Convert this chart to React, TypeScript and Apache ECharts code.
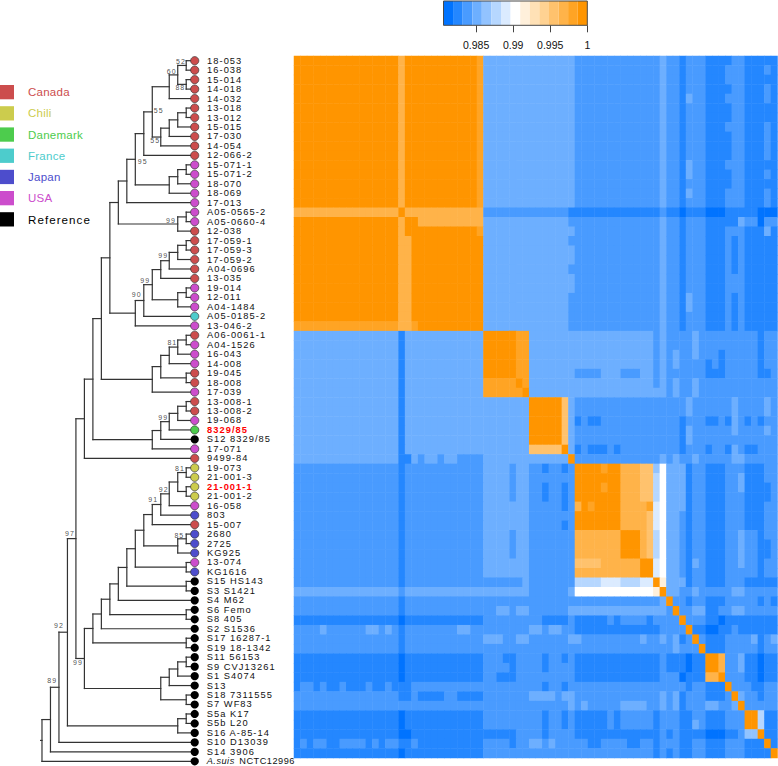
import React, { useEffect, useRef } from "react";
import * as echarts from "echarts";

// ---------- tree (named clades, support values after the closing bracket) ----------
const cladeA = "(((18-053,16-038)52,(15-014,14-018)88)60,14-032)";
const cladeB = "((((13-018,13-012),15-015),17-030),14-054)55";
const cladeC = "(((15-071-1,15-071-2),18-070),18-069)";
const cladeD = "((A05-0565-2,A05-0660-4),12-038)99";
const cladeUpper = `(((((${cladeA},${cladeB})55,12-066-2),${cladeC})95,17-013),${cladeD})`;
const cladeI = "((((17-059-1,17-059-3),17-059-2),A04-0696)99,13-035)";
const cladeJ = "((19-014,12-011),A04-1484)";
const cladeF = `(((${cladeI},${cladeJ})99,A05-0185-2)90,13-046-2)`;
const cladeM = "(((((A06-0061-1,A04-1526),16-043)81,14-008),(19-045,18-008)),17-039)";
const cladeP = "(((((13-008-1,13-008-2),19-068),8329/85)99,S12 8329/85),17-071)";
const cladeQ = `((((${cladeUpper},${cladeF}),${cladeM}),${cladeP}),9499-84)`;
const cladeEE = "((19-073,21-001-3)81,(21-001-1,21-001-2))";
const cladeAA = `((((${cladeEE},16-058)92,803)91,15-007),((2680,2725)85,KG925))`;
const cladeV = `(((((${cladeAA},(13-074,KG1616)),(S15 HS143,S3 S1421)),S4 M62),(S6 Femo,S8 405)),S2 S1536)`;
const cladeU = "((((S11 56153,S9 CVJ13261),S1 S4074),S13),(S18 7311555,S7 WF83))";
const cladeS = `((${cladeV},(S17 16287-1,S19 18-1342)),${cladeU})99`;
const TREE = `(((((${cladeQ},${cladeS})97,((S5a K17,S5b L20),S16 A-85-14))92,S10 D13039)89,S14 3906),A.suis NCTC12996)`;

// offsets of the support labels, in the order the nodes close in TREE
const SUPPORT_OFFSETS: [number, number][] = [
  [-5.2, -4.1], [-5.9, 3.6], [-6, -3.9], [-5.5, 3.3], [6.4, -1.2], [7.4, 2.4], [-6.7, -4],
  [-6, -5.7], [-7, -3.9], [-7.1, -5.5], [-5.4, -4.3], [-6, -4.3], [-6.2, -4.2], [-5.6, -4.5],
  [-7.5, -5.2], [-6.9, -3.5], [-6.4, 4.4], [-5.9, -4.7], [-8.5, -6.6], [-6.7, -7],
];

// ---------- countries ----------
const COUNTRIES = ["Canada", "Chili", "Danemark", "France", "Japan", "USA", "Reference"];
const COUNTRY_COLORS = ["#CC4D4D", "#CCCC4D", "#4DCC4D", "#4DCCCC", "#4D4DCC", "#CC4DCC", "#000000"];
// one index per tip, top to bottom
const TIP_COUNTRY = [
  0, 0, 0, 0, 0, 0, 0, 0, 0, 0, 0, 5, 5, 5, 5, 5, 5, 5, 0, 0, 0, 0, 0, 0, 5,
  5, 5, 3, 5, 0, 5, 5, 5, 0, 0, 5, 0, 0, 5, 2, 6, 5, 0, 1, 1, 1, 1, 5, 4, 0,
  4, 4, 4, 5, 4, 6, 6, 6, 6, 6, 6, 6, 6, 6, 6, 6, 6, 6, 6, 6, 6, 6, 6, 6, 6,
];
const RED_TIPS = ["8329/85", "21-001-1"];

// ---------- colour scale: 15 bands a..o ----------
const BAND_EDGES = [
  0.9806, 0.98189, 0.98319, 0.98448, 0.98577, 0.98707, 0.98836, 0.98965, 0.99095, 0.99224,
  0.99353, 0.99483, 0.99612, 0.99741, 0.99871, 1,
];
const BAND_VALUES = [
  0.98125, 0.98254, 0.98384, 0.98513, 0.98642, 0.98772, 0.98901, 0.9903, 0.99159, 0.99289,
  0.99418, 0.99547, 0.99677, 0.99806, 0.99935,
];
const BAND_COLORS = [
  "#0073FF", "#2487FF", "#499BFF", "#6DAFFF", "#92C3FF", "#B6D7FF", "#DBEBFF", "#FFFFFF",
  "#FFF0DB", "#FFE1B6", "#FFD292", "#FFC26D", "#FFB349", "#FFA424", "#FF9500",
];
const COLORBAR_TICKS = [0.985, 0.99, 0.995, 1];

// ---------- identity matrix, row by row: band letter + repeat count ----------
const MATRIX_ROWS = [
  "o16 m1 o11 n1 d14 c13 d1 c2 b1 c3 b3 b1 c2 b3 b1 b1",
  "o16 m1 o11 n1 d14 c13 d1 c2 b1 c3 b3 c1 c2 b3 c1 b1",
  "o16 m1 o11 n1 d14 c13 d1 c2 b1 c3 b3 c1 c2 b3 b1 b1",
  "o16 m1 o11 n1 d14 c13 d1 c2 b1 c3 b3 b1 c2 b3 c1 b1",
  "o16 m1 o11 n1 d14 c13 d1 c2 b1 d1 c2 b3 c1 c2 b3 c1 b1",
  "o16 m1 o11 n1 d14 c13 d1 c2 b1 c3 b3 b1 c2 b3 b1 b1",
  "o16 m1 o11 n1 d14 c13 d1 c2 b1 c3 b3 b1 c2 b3 b1 b1",
  "o16 m1 o11 n1 d14 c13 d1 c2 b1 c3 b3 c1 c2 b3 c1 b1",
  "o16 m1 o11 n1 d14 c13 d1 c2 b1 c3 b3 b1 c2 b3 c1 b1",
  "o16 m1 o11 n1 d14 c13 d1 c2 b1 c3 b3 b1 c2 b3 c1 b1",
  "o16 m1 o11 n1 d14 c13 d1 c2 b1 c3 b3 b1 c2 b3 c1 b1",
  "o16 m1 o11 n1 d14 c13 d1 c2 b1 d1 c2 b3 c1 c2 b3 b1 b1",
  "o16 m1 o11 n1 d14 c13 d1 c2 b1 d1 c2 b3 b1 c2 b3 c1 b1",
  "o16 m1 o11 n1 d14 c13 d1 c2 b1 c3 b3 b1 c2 b3 b1 b1",
  "o16 m1 o11 n1 d14 c13 d1 c2 b1 d1 c2 b3 c1 c2 b3 c1 b1",
  "o16 m1 o11 n1 d14 c13 d1 c2 b1 c3 b3 c1 c2 b3 c1 b1",
  "m16 o1 m12 c13 b1 b13 c1 b2 a1 b3 a3 b5 a3",
  "o16 m1 o2 m10 d13 c1 c13 d1 c2 b1 c3 b3 b2 d1 c2 a1 c2",
  "o16 m1 o11 n1 d14 c13 d1 c2 b1 c3 b3 c3 b3 d1 b1",
  "o16 m2 o11 d13 c1 c13 d1 c2 b1 c3 b3 c1 b1 c1 b5",
  "o16 m2 o11 d14 c13 d1 c2 b1 c3 b3 c1 b1 c1 b5",
  "o16 m2 o11 d14 c13 d1 c2 b1 c3 b3 c1 b1 c1 b5",
  "o16 m2 o11 d13 c1 c13 d1 c2 b1 c3 b3 c1 b1 c1 b5",
  "o16 m2 o11 d14 c13 d1 c2 b1 c3 b3 c3 b5",
  "o16 m2 o11 d14 c13 d1 c2 b1 c3 b3 c3 b5",
  "o16 m2 o11 d13 c14 d1 c2 b1 d1 c2 b3 c1 b1 c1 b5",
  "o16 m2 o11 d13 c14 d1 c2 b1 d1 c2 b3 c1 b1 c1 b5",
  "o16 m2 o11 d13 c14 d1 c2 b1 c3 b3 c1 b1 c1 b5",
  "n16 m2 n1 o10 d13 c14 d1 c2 b1 c3 b3 c1 b1 c1 b5",
  "d16 b1 d12 o5 n2 d7 d12 c1 d1 c4 d1 c1 c3 c5 b1 c2",
  "d16 b1 d12 o5 n2 d7 d12 c1 d1 c4 d1 c1 c3 c5 b1 c2",
  "d16 b1 d12 o5 n2 d7 d12 c1 d1 c1 d1 c2 d1 c1 c2 b1 c5 b1 c2",
  "d16 b1 d12 o5 n2 d7 d12 c1 d1 c1 d1 c2 c1 c1 b1 c1 b1 c5 b1 c2",
  "d16 b1 d12 o5 n2 d7 c4 d3 c3 d2 c1 d1 c6 b3 c5 b2 c1",
  "d16 b1 d12 n5 o1 n1 d7 d12 c1 d1 c1 d1 c2 d1 c1 c3 c5 c3",
  "d16 b1 d12 n6 o1 d7 d14 c1 d1 c2 d1 c1 c3 c5 c3",
  "d16 b1 d19 o5 l1 d1 c17 d1 c2 c3 c1 d1 c4 d1 c1",
  "d16 b1 d19 o5 l1 d1 c17 d1 c2 c3 c1 d1 c4 d1 c1",
  "d16 b1 d19 o5 l1 d1 b1 c1 b2 c12 b1 c1 c2 b2 c1 b1 d1 c1 b1 c1 b1 c2",
  "d16 b1 d19 o5 l1 d1 c16 b1 d1 c2 c3 c1 d1 c4 d1 c1",
  "d16 b1 d19 o5 l1 d1 c16 b1 d1 c2 c3 c1 c1 c6",
  "d16 b1 d19 l5 o1 d1 b1 c1 b3 c1 b1 c9 b1 c1 c2 b1 c2 b1 d1 c1 b2 c3",
  "d16 b2 d1 c1 d2 c1 d2 c4 d13 o1 c13 d1 c1 d1 c2 d1 c1 c4 d2 c5",
  "c16 b1 c12 d4 c1 d2 c2 b1 c2 b1 c1 o4 n1 o2 m3 l2 e1 h1 d3 b1 c2 b3 c3 b3 c2",
  "c16 b1 c12 d4 c1 d2 c7 o7 m3 l2 f1 h1 d3 b1 c2 b3 c2 d1 b3 c2",
  "c16 b1 c12 d4 c1 d2 c2 b1 c2 b1 c1 o4 n1 o2 m3 l2 f1 h1 d3 b1 c2 b3 c2 d1 b3 b1 c1",
  "c16 b1 c12 d4 c1 d2 c2 b1 c2 b1 c1 o7 m3 l2 f1 h1 d3 b1 c2 b3 c3 b3 b1 c1",
  "c16 b1 c12 d7 c5 b1 c1 m1 o1 n1 o4 m3 m1 n1 g1 h1 d3 b1 c2 b3 c3 b3 c2",
  "c16 b1 c12 d7 c7 o7 m3 m1 l1 g1 h1 d2 c1 b1 c2 b3 c3 b3 c2",
  "c16 b1 c12 d7 c5 b1 c1 o7 m3 m1 l1 g1 h1 d2 c1 b1 c2 b3 c3 b3 c2",
  "c16 b1 c12 d4 c1 d2 c7 m7 o3 m1 l1 f1 h1 d2 c1 b1 c2 b3 c2 d1 c2 b1 c2",
  "c16 b1 c12 d4 c1 d2 c7 m7 o3 m1 l1 f1 h1 d2 c1 b1 c2 b3 c2 d1 c2 b1 b1 c1",
  "c16 b1 c12 d4 c1 d2 c7 m7 o3 m1 l1 f1 h1 d2 c1 b1 c2 b3 c2 d1 c2 b1 b1 c1",
  "c16 b1 c12 d7 c7 l4 m6 o2 g1 h1 d2 c1 b1 d1 c1 b3 c2 d1 c2 b1 c2",
  "c16 b1 c12 d7 c7 m10 o2 g1 h1 d2 c1 b1 c2 b3 c3 c2 b1 c2",
  "c16 b1 c12 c6 d1 c7 f4 g3 f3 g2 o1 i1 d3 b1 c2 b3 c3 b5",
  "d16 c1 d19 c6 d1 h12 i1 o1 d2 c2 d1 c1 c4 d2 c5",
  "c16 b1 c12 c14 c13 d1 o1 c2 b1 c2 b3 c5 b1 c1 b1",
  "c16 b1 c12 c2 d2 c1 d2 c6 d1 d13 d1 c1 o1 c1 c1 d2 b2 c1 c1 d2 c5",
  "b16 a1 b12 c9 b4 c1 b5 c1 b1 c4 b1 c4 o1 c3 b2 a1 b8",
  "c4 d1 c6 d2 c1 d1 c1 b1 c8 d2 c2 c7 d2 c1 d2 c2 b13 c4 o1 b2 a2 b1 b1 c1 b6",
  "c16 b1 c12 d3 c2 d2 c6 d1 d1 c9 d1 c2 d1 c1 d1 b1 c1 o1 c1 b3 c3 c1 d1 b1 c1 d1",
  "c16 b1 c12 c14 c15 d1 c3 o1 b3 c5 b1 c2",
  "b16 a1 b12 c3 b2 c4 b1 c2 b1 c1 b13 c1 b3 a1 b2 o2 m1 c2 d1 b2 a1 b2",
  "b16 a1 b12 c4 b1 c4 b1 c4 b13 c1 b3 a1 b2 o2 m1 c2 d1 b2 a1 b2",
  "b16 a1 b12 c2 b3 c9 b13 c1 c2 a1 b1 b2 m2 o1 c3 b2 a1 b2",
  "b1 c2 b1 c1 b2 c1 b3 c1 b2 c1 b3 c11 c9 b1 c2 b1 c1 c13 c1 c3 b1 c2 b3 o1 c3 b2 c2",
  "c16 b2 c1 b4 c2 b4 c7 d4 c1 d2 c13 d1 c1 d1 b1 c1 c2 b3 c1 o1 d1 c2 b1 c2",
  "c29 c13 d1 c1 d1 c5 d4 c2 d1 c1 d1 b1 c1 c2 d2 c1 c1 d1 o1 c5",
  "b16 a1 b12 c9 b1 c2 b1 c1 b5 c1 b1 c5 b1 c3 b2 c2 b3 c3 o2 f1 b2",
  "b16 a1 b12 c9 b1 c2 b1 c1 b5 c1 b1 c5 b1 c3 b2 d1 c1 b3 c3 o2 f1 b2",
  "b16 a2 b11 b5 c4 b1 c4 b13 c1 b1 c1 b2 b2 a3 b2 c1 e2 o1 b2",
  "b1 c1 b1 c2 b2 c4 b1 c1 b1 c2 b2 c1 b10 c4 b1 c2 d2 c1 d1 c3 c2 b2 c4 b2 c2 b1 c3 b2 c2 b3 c3 b3 o1 b1",
  "b16 a1 b12 c14 c12 b1 c1 b1 c1 b2 c2 b3 c3 b3 b1 o1",
];

// ---------- helpers that turn the lists above into series data ----------
type TNode = { name?: string; support?: string; children?: TNode[]; level: number; row: number };

function parseTree(src: string) {
  let i = 0;
  let nextRow = 1;
  const tips: TNode[] = [];
  const supports: TNode[] = [];
  const segments: [number, number, number, number][] = [];
  const xOf = (level: number) => 19 - level;
  const readToken = () => {
    const s = i;
    while (i < src.length && src[i] !== "," && src[i] !== ")") i++;
    return src.slice(s, i);
  };
  const walk = (): TNode => {
    if (src[i] === "(") {
      i++;
      const children: TNode[] = [];
      for (;;) {
        children.push(walk());
        const ch = src[i++];
        if (ch !== ",") break;
      }
      const support = readToken();
      const level = 1 + Math.max(...children.map((c) => c.level));
      const row = (children[0].row + children[children.length - 1].row) / 2;
      const node: TNode = { children, support, level, row };
      segments.push([xOf(level), children[0].row, xOf(level), children[children.length - 1].row]);
      children.forEach((c) => segments.push([xOf(level), c.row, xOf(c.level), c.row]));
      if (support) supports.push(node);
      return node;
    }
    const node: TNode = { name: readToken(), level: 0, row: nextRow++ };
    tips.push(node);
    return node;
  };
  const root = walk();
  segments.push([xOf(root.level + 0.16), root.row, xOf(root.level), root.row]);
  return { tips, supports, segments, xOf };
}

function decodeRow(text: string): number[] {
  const out: number[] = [];
  text.split(" ").forEach((tok) => {
    const idx = tok.charCodeAt(0) - 97;
    const n = parseInt(tok.slice(1), 10);
    for (let k = 0; k < n; k++) out.push(idx);
  });
  return out;
}

const FONT = "Liberation Sans";

function buildOption() {
  const { tips, supports, segments, xOf } = parseTree(TREE);
  const heatLabels = tips.slice(0, MATRIX_ROWS.length).map((t) => t.name as string);
  const heatData: number[][] = [];
  MATRIX_ROWS.forEach((rowText, r) => {
    decodeRow(rowText).slice(0, heatLabels.length).forEach((band, c) => {
      heatData.push([c, r, BAND_VALUES[band]]);
    });
  });

  const tipSeries = COUNTRIES.map((country, ci) => ({
    type: "scatter",
    name: country,
    xAxisIndex: 1,
    yAxisIndex: 1,
    z: 3,
    symbolSize: 8.2,
    silent: true,
    clip: false,
    itemStyle: {
      color: COUNTRY_COLORS[ci],
      borderColor: ci === 6 ? "#000000" : "#333333",
      borderWidth: ci === 6 ? 0 : 0.7,
      opacity: 1,
    },
    label: {
      show: true,
      position: "right",
      distance: 7.9,
      formatter: "{b}",
      fontFamily: FONT,
      fontSize: 9.3,
      color: "#111111",
    },
    data: tips
      .map((t, idx) => ({ t, idx }))
      .filter(({ idx }) => TIP_COUNTRY[idx] === ci)
      .map(({ t }) => {
        const name = t.name as string;
        const item: any = { name, value: [xOf(0), t.row] };
        if (RED_TIPS.includes(name)) {
          item.label = { color: "#FF0000", fontWeight: "bold", fontSize: 9.3 };
        }
        if (name.startsWith("A.suis")) {
          const [genus, strain] = name.split(" ");
          item.label = {
            formatter: `{g|${genus}}{s|${strain}}`,
            rich: {
              g: { fontFamily: FONT, fontSize: 9.2, fontStyle: "italic", color: "#111111", width: 32.6 },
              s: { fontFamily: FONT, fontSize: 9.2, color: "#111111" },
            },
          };
        }
        return item;
      }),
  }));

  return {
    animation: false,
    backgroundColor: "#ffffff",
    textStyle: { fontFamily: FONT },
    legend: {
      left: 0,
      top: 85,
      padding: 0,
      orient: "vertical",
      itemWidth: 14,
      itemHeight: 14.3,
      itemGap: 6.9,
      selectedMode: false,
      icon: "rect",
      itemStyle: { borderWidth: 0 },
      textStyle: { fontFamily: FONT, fontSize: 11.5, padding: [0, 0, 0, 9] },
      data: COUNTRIES.map((name, i) => ({
        name,
        icon: "rect",
        textStyle: { color: COUNTRY_COLORS[i], fontSize: i === 6 ? 11.6 : 11.5 },
      })),
    },
    grid: [
      { left: 294, top: 56, width: 483.5, height: 702 },
      { left: 33.5, top: 60.7, width: 161.2, height: 700.6 },
      { left: 443.5, top: 1, width: 143.8, height: 24.3 },
    ],
    xAxis: [
      { type: "category", gridIndex: 0, data: heatLabels, show: false },
      { type: "value", gridIndex: 1, min: 0, max: 19, show: false },
      {
        type: "value",
        gridIndex: 2,
        min: BAND_EDGES[0],
        max: 1,
        splitLine: { show: false },
        axisLine: { show: false },
        axisTick: { show: true, length: 7, customValues: COLORBAR_TICKS, lineStyle: { color: "#444444", width: 1 } },
        axisLabel: {
          show: true,
          margin: 14,
          fontFamily: FONT,
          fontSize: 10.5,
          color: "#111111",
          customValues: COLORBAR_TICKS,
          formatter: (v: number) => String(+Number(v).toFixed(3)),
        },
      },
    ],
    yAxis: [
      { type: "category", gridIndex: 0, data: heatLabels, inverse: true, show: false },
      { type: "value", gridIndex: 1, min: 1, max: 75, inverse: true, show: false },
      { type: "value", gridIndex: 2, min: 0, max: 1, show: false },
    ],
    visualMap: {
      show: false,
      type: "piecewise",
      seriesIndex: 0,
      dimension: 2,
      pieces: BAND_COLORS.map((color, i) => ({ gte: BAND_EDGES[i], lte: BAND_EDGES[i + 1], color })),
    },
    series: [
      {
        type: "heatmap",
        name: "identity",
        xAxisIndex: 0,
        yAxisIndex: 0,
        silent: true,
        progressive: 0,
        data: heatData,
      },
      {
        type: "custom",
        name: "tree",
        xAxisIndex: 1,
        yAxisIndex: 1,
        silent: true,
        clip: false,
        z: 2,
        encode: { x: [0, 2], y: [1, 3] },
        renderItem: (_p: any, api: any) => {
          const a = api.coord([api.value(0), api.value(1)]);
          const b = api.coord([api.value(2), api.value(3)]);
          return {
            type: "line",
            shape: { x1: a[0], y1: a[1], x2: b[0], y2: b[1] },
            style: { stroke: "#333333", lineWidth: 1.2, lineCap: "square" },
          };
        },
        data: segments,
      },
      ...tipSeries,
      {
        type: "scatter",
        name: "support",
        xAxisIndex: 1,
        yAxisIndex: 1,
        silent: true,
        clip: false,
        z: 4,
        symbolSize: 1,
        itemStyle: { color: "transparent" },
        label: { show: true, position: "inside", fontFamily: FONT, fontSize: 7, color: "#222222" },
        data: supports.map((n, i) => ({
          value: [xOf(n.level), n.row],
          label: { formatter: n.support, offset: SUPPORT_OFFSETS[i] },
        })),
      },
      {
        type: "custom",
        name: "colorbar",
        xAxisIndex: 2,
        yAxisIndex: 2,
        silent: true,
        clip: false,
        encode: { x: [0, 1] },
        renderItem: (_p: any, api: any) => {
          const idx = api.value(2);
          const p0 = api.coord([api.value(0), 1]);
          const p1 = api.coord([api.value(1), 0]);
          const shape = { x: p0[0], y: p0[1], width: p1[0] - p0[0], height: p1[1] - p0[1] };
          return idx < 0
            ? { type: "rect", z2: 5, shape, style: { fill: "none", stroke: "#4a4a4a", lineWidth: 1 } }
            : { type: "rect", shape, style: { fill: BAND_COLORS[idx] } };
        },
        data: [
          ...BAND_COLORS.map((_, i) => [BAND_EDGES[i], BAND_EDGES[i + 1], i]),
          [BAND_EDGES[0], 1, -1],
        ],
      },
    ],
  };
}

const TEXT_CSS = `
.hm-chart text { letter-spacing: 1.05px; }
.hm-chart text[style*="11.5px"] { letter-spacing: 0.25px; }
.hm-chart text[style*="10.5px"] { letter-spacing: 0; }
.hm-chart text[style*="9.2px"] { letter-spacing: 0.5px; }
`;

export default function App() {
  const ref = useRef<HTMLDivElement>(null);
  useEffect(() => {
    document.body.style.margin = "0";
    document.body.style.background = "#ffffff";
    const chart = echarts.init(ref.current as HTMLDivElement, undefined, { renderer: "svg" });
    chart.setOption(buildOption() as any);
    return () => chart.dispose();
  }, []);
  return (
    <>
      <style>{TEXT_CSS}</style>
      <div ref={ref} className="hm-chart" style={{ width: 778, height: 766 }} />
    </>
  );
}
